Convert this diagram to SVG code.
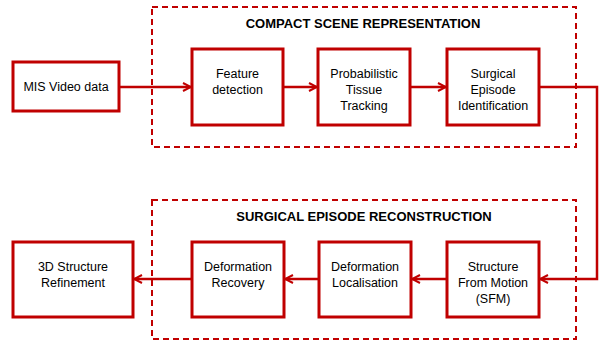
<svg xmlns="http://www.w3.org/2000/svg" width="600" height="342" viewBox="0 0 600 342">
<defs>
<marker id="arr" viewBox="0 0 10 10" refX="9" refY="5" markerWidth="10" markerHeight="10" markerUnits="userSpaceOnUse" orient="auto">
<path d="M1,1 L9,5 L1,9" fill="none" stroke="#c00000" stroke-width="2"/>
</marker>
<style>
.grp{fill:none;stroke:#c00000;stroke-width:2;stroke-dasharray:6,4}
.box{fill:#fff;stroke:#c00000;stroke-width:3}
.t{font-family:"Liberation Sans",Arial,sans-serif;font-size:12.5px;fill:#000;text-anchor:middle}
.h{font-family:"Liberation Sans",Arial,sans-serif;font-size:13px;font-weight:bold;fill:#000;text-anchor:middle}
.c{fill:none;stroke:#c00000;stroke-width:2.5;marker-end:url(#arr)}
</style>
</defs>
<g id="group-compact">
<rect class="grp" x="152" y="7" width="424" height="140"/>
<text class="h" x="363" y="28">COMPACT SCENE REPRESENTATION</text>
</g>
<g id="group-reconstruction">
<rect class="grp" x="152" y="200" width="424" height="139"/>
<text class="h" x="364" y="221">SURGICAL EPISODE RECONSTRUCTION</text>
</g>
<g id="connectors">
<path class="c" d="M119,87 L191,87"/>
<path class="c" d="M283,87 L317,87"/>
<path class="c" d="M410,87 L446,87"/>
<path class="c" d="M539,87 L597,87 L597,279 L540,279"/>
<path class="c" d="M447,279 L412,279"/>
<path class="c" d="M319,279 L285,279"/>
<path class="c" d="M192,279 L134,279"/>
</g>
<g id="mis">
<rect class="box" x="13" y="62" width="106" height="49"/>
<text class="t" x="66" y="91">MIS Video data</text>
</g>
<g id="feature">
<rect class="box" x="192" y="49" width="91" height="76"/>
<text class="t" x="237.5" y="78">Feature</text>
<text class="t" x="237.5" y="94">detection</text>
</g>
<g id="tracking">
<rect class="box" x="318" y="49" width="92" height="76"/>
<text class="t" x="364" y="78">Probabilistic</text>
<text class="t" x="364" y="94">Tissue</text>
<text class="t" x="364" y="110">Tracking</text>
</g>
<g id="episode">
<rect class="box" x="447" y="49" width="92" height="76"/>
<text class="t" x="493" y="78">Surgical</text>
<text class="t" x="493" y="94">Episode</text>
<text class="t" x="493" y="110">Identification</text>
</g>
<g id="sfm">
<rect class="box" x="447" y="242" width="92" height="75"/>
<text class="t" x="493" y="271">Structure</text>
<text class="t" x="493" y="287">From Motion</text>
<text class="t" x="493" y="303">(SFM)</text>
</g>
<g id="localisation">
<rect class="box" x="319" y="242" width="92" height="75"/>
<text class="t" x="365" y="271">Deformation</text>
<text class="t" x="365" y="287">Localisation</text>
</g>
<g id="recovery">
<rect class="box" x="192" y="242" width="92" height="75"/>
<text class="t" x="238" y="271">Deformation</text>
<text class="t" x="238" y="287">Recovery</text>
</g>
<g id="refinement">
<rect class="box" x="13" y="242" width="120" height="75"/>
<text class="t" x="73" y="271">3D Structure</text>
<text class="t" x="73" y="287">Refinement</text>
</g>
</svg>
